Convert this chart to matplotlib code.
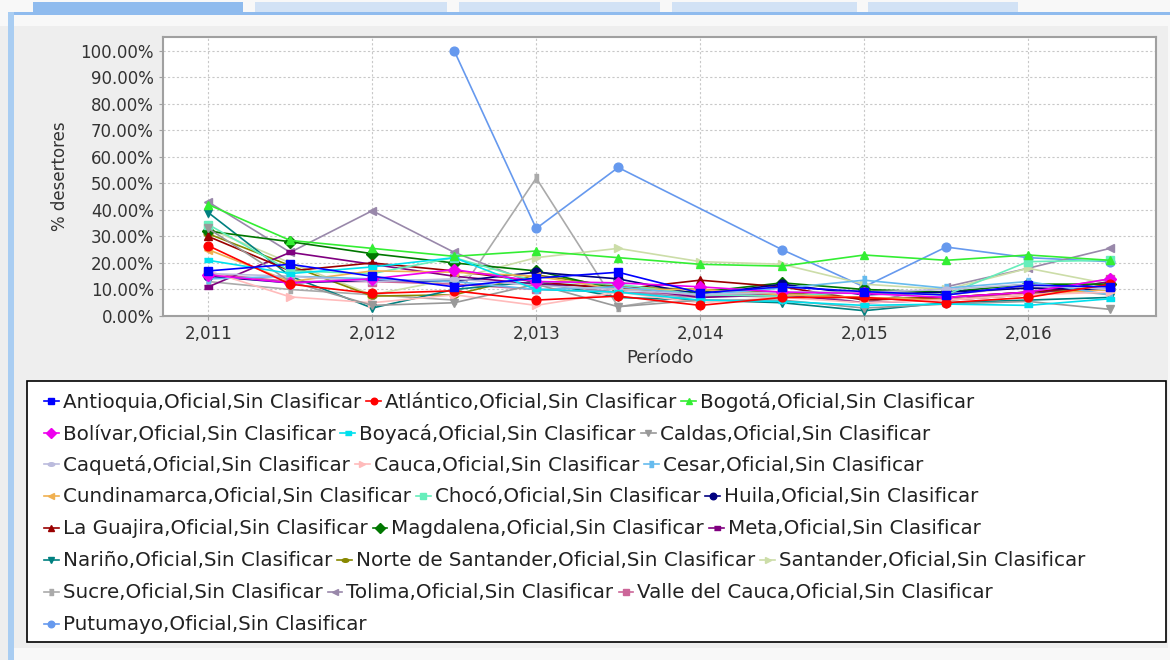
import numpy as np
import matplotlib.pyplot as plt
from matplotlib.patches import Rectangle
from matplotlib.ticker import FuncFormatter, MultipleLocator

W, H = 1170, 660

# Periods (half-year steps)
periodos = [2011, 2011.5, 2012, 2012.5, 2013, 2013.5, 2014, 2014.5, 2015, 2015.5, 2016, 2016.5]
nan = np.nan

# % desertores per department
antioquia = [17, 19.5, 15, 11, 14.3, 16.5, 8.7, 11, 9.2, 7.9, 11.6, 11]
atlantico = [26.5, 12, 8.5, 9.5, 6, 7.5, 4, 7, 7, 5, 7, 12]
bogota = [42, 28.5, 25.5, 22.5, 24.5, 22, 19.5, 18.8, 23, 21, 23, 21]
bolivar = [15.5, 12.5, 14, 17.5, 13, 12.5, 11, 9, 8.5, 7, 9, 14]
boyaca = [21, 16, 18.5, 22, 10, 9, 6, 5.5, 4, 4.5, 4, 6.5]
caldas = [33, 13, 4, 5, 12, 3.5, 6, 6, 3, 4.5, 5.5, 2.5]
caqueta = [16, 15, 13, 14, 11.5, 10, 8, 9, 9, 10, 12, 10]
cauca = [17, 7.2, 5, 8, 4, 9, 5, 7, 5, 6, 8, 9]
cesar = [14, 15, 14, 13, 10, 11, 8, 10.5, 13.5, 10.5, 13, 8]
cundinamarca = [25, 13, 17, 16.5, 15, 10, 10, 8, 7, 6, 8, 10]
choco = [34.5, 17, 16, 22, 13, 12, 8, 7.5, 9, 8, 20.5, 21]
huila = [15, 12.5, 13.5, 13, 16.5, 14, 8, 12, 8, 9, 10.5, 10]
la_guajira = [30, 17, 20, 17, 13, 10, 13.5, 11, 6, 7, 9, 11.5]
magdalena = [32, 28, 23.5, 20, 17, 10, 9, 12.5, 10, 9, 12, 12]
meta = [11, 24, 19.5, 15, 12, 11, 7, 8, 5, 6, 8, 13]
narino = [39, 15, 3, 10, 13, 7, 6, 5, 2, 5, 6, 7]
norte_santander = [31, 19, 7.5, 8, 15.5, 11, 10, 9, 6.5, 7, 9, 10]
santander = [33, 20, 8, 14, 22, 25.5, 20.5, 19.5, 12, 10, 18, 12]
sucre = [13, 10, 8, 6, 52, 3.5, 8, 7, 10, 8, 11, 8]
tolima = [43, 24, 39.7, 24, 12, 9, 7, 9, 5, 11, 18, 25.5]
valle = [16, 13, 13, 12, 10, 9, 8, 8, 7, 6, 9, 14]
putumayo = [nan, nan, nan, 100, 33, 56, nan, 25, 11, 26, 22, 20.5]

departamentos = ['Antioquia', 'Atlántico', 'Bogotá', 'Bolívar', 'Boyacá', 'Caldas',
                 'Caquetá', 'Cauca', 'Cesar', 'Cundinamarca', 'Chocó', 'Huila',
                 'La Guajira', 'Magdalena', 'Meta', 'Nariño', 'Norte de Santander',
                 'Santander', 'Sucre', 'Tolima', 'Valle del Cauca', 'Putumayo']
valores = [antioquia, atlantico, bogota, bolivar, boyaca, caldas, caqueta, cauca, cesar,
           cundinamarca, choco, huila, la_guajira, magdalena, meta, narino,
           norte_santander, santander, sucre, tolima, valle, putumayo]
colores = ['#0000ff', '#ff0000', '#33ee33', '#ee00ee', '#00e0ee', '#999999',
           '#bbbbdd', '#ffbbbb', '#66bbee', '#f0b050', '#66eebb', '#000080',
           '#990000', '#007700', '#800080', '#008080', '#888800', '#ccdda8',
           '#aaaaaa', '#9988aa', '#cc6699', '#6699ee']

# JFreeChart-like shape sequence
t = np.linspace(0, 2 * np.pi, 30)
rect_h = [(-1, -0.55), (1, -0.55), (1, 0.55), (-1, 0.55)]
rect_v = [(-0.55, -1), (0.55, -1), (0.55, 1), (-0.55, 1)]
ell_h = list(zip(np.cos(t), 0.55 * np.sin(t)))
formas = ['s', 'o', '^', 'D', rect_h, 'v', ell_h, '>', rect_v, '<']

fig = plt.figure(figsize=(W / 100, H / 100), dpi=100, facecolor='#eeeeee')


def px_rect(x0, y0, x1, y1, **kw):
    fig.patches.append(Rectangle((x0 / W, 1 - y1 / H), (x1 - x0) / W, (y1 - y0) / H,
                                 transform=fig.transFigure, **kw))


# window decorations (tabs, frame)
px_rect(0, 0, W, 26, facecolor='#f8f8f8', edgecolor='none')
px_rect(33, 2, 243, 13, facecolor='#8fbbee', edgecolor='none')
for a, b in [(255, 447), (459, 660), (672, 857), (868, 1018)]:
    px_rect(a, 2, b, 13, facecolor='#d2e2f5', edgecolor='none')
px_rect(8, 12, W, 15, facecolor='#8fbbee', edgecolor='none')
px_rect(8, 12, 14, H, facecolor='#a9cdf2', edgecolor='none')
px_rect(1168, 15, W, H, facecolor='#f8f8f8', edgecolor='none')
px_rect(14, 648, 1168, H, facecolor='#f8f8f8', edgecolor='none')

ax = fig.add_axes([163 / W, 1 - 316 / H, (1156 - 163) / W, (316 - 37) / H])
ax.set_facecolor('white')

handles = []
x = np.array(periodos)
for i in range(len(departamentos) - 1, -1, -1):
    y = np.array(valores[i], dtype=float)
    ok = ~np.isnan(y)
    ln, = ax.plot(x[ok], y[ok], color=colores[i], marker=formas[i % len(formas)],
                  markersize=6.3, linewidth=1.2, zorder=3 + (len(departamentos) - i) * 0.01)
    handles.append(ln)
handles = handles[::-1]

ax.set_xlim(2010.724, 2016.78)
ax.set_ylim(0, 105.2)
ax.xaxis.set_major_locator(MultipleLocator(1))
ax.yaxis.set_major_locator(MultipleLocator(10))
ax.xaxis.set_major_formatter(FuncFormatter(lambda v, p: f'{v:,.0f}'))
ax.yaxis.set_major_formatter(FuncFormatter(lambda v, p: f'{v:.2f}%'))
ax.grid(True, color='#c8c8c8', linestyle=(0, (2, 2)), linewidth=0.8)
ax.set_axisbelow(True)
for s in ax.spines.values():
    s.set_color('#a0a0a0')
    s.set_linewidth(1.5)
ax.tick_params(colors='#a0a0a0', labelcolor='#333333', labelsize=12, length=3)
ax.set_xlabel('Período', fontsize=13, color='#333333', labelpad=4)
ax.set_ylabel('% desertores', fontsize=12, color='#333333', labelpad=8)

# legend box with flow layout (one legend per row)
px_rect(27, 381, 1166, 642, facecolor='white', edgecolor='black', linewidth=1.2, zorder=0)
filas = [[0, 1, 2], [3, 4, 5], [6, 7, 8], [9, 10, 11], [12, 13, 14], [15, 16, 17],
         [18, 19, 20], [21]]
row_y = [402, 434, 465, 497, 529, 561, 593, 625]
for fila, yy in zip(filas, row_y):
    hs = [handles[k] for k in fila]
    ls = [departamentos[k] + ',Oficial,Sin Clasificar' for k in fila]
    lg = fig.legend(hs, ls, ncol=len(fila), loc='center left',
                    bbox_to_anchor=(44 / W, 1 - yy / H), frameon=False,
                    fontsize=14.3, handlelength=0.75, handletextpad=0.2,
                    columnspacing=0.25, borderpad=0, borderaxespad=0, markerscale=0.75)
    for txt in lg.get_texts():
        txt.set_color('#222222')

fig.savefig('out.png', dpi=100, facecolor=fig.get_facecolor())
